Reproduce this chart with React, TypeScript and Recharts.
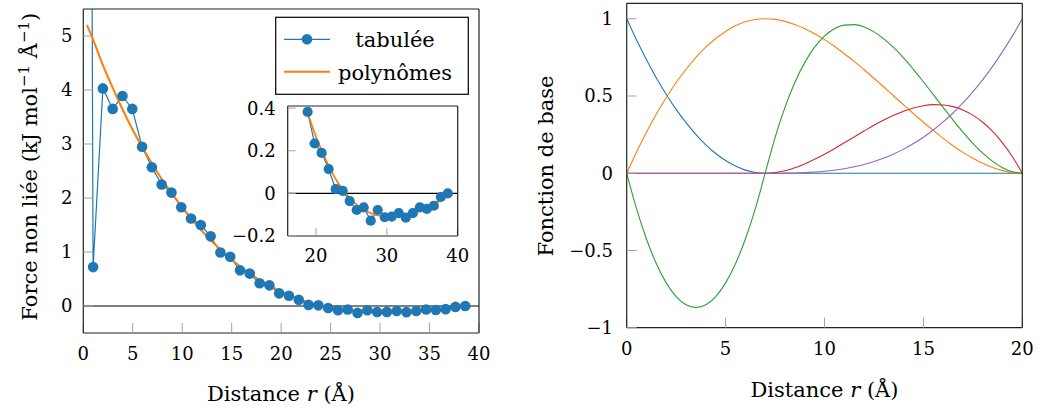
import React from 'react';
import { LineChart, Line, XAxis, YAxis, ReferenceLine } from 'recharts';

const FONT = 'DejaVu Serif';
const BLUE = '#1f77b4';
const ORANGE = '#ff7f0e';
const GREEN = '#2ca02c';
const RED = '#d62728';
const PURPLE = '#9467bd';
const TICK_GRAY = '#a0a0a0';
const FRAME = '#222222';

// ---------- Left panel: tabulated non-bonded force ----------
const tabR = [0, 0.99, 1.98, 2.97, 3.96, 4.95, 5.94, 6.93, 7.92, 8.91, 9.9, 10.89, 11.88, 12.87, 13.86, 14.85, 15.84, 16.83, 17.82, 18.81, 19.8, 20.79, 21.78, 22.77, 23.76, 24.75, 25.74, 26.73, 27.72, 28.71, 29.7, 30.69, 31.68, 32.67, 33.66, 34.65, 35.64, 36.63, 37.62, 38.61];
const tabF = [50, 0.72, 4.03, 3.65, 3.89, 3.65, 2.95, 2.57, 2.25, 2.1, 1.83, 1.62, 1.5, 1.29, 0.99, 0.91, 0.66, 0.6, 0.42, 0.382, 0.234, 0.19, 0.114, 0.02, 0.012, -0.036, -0.078, -0.066, -0.128, -0.078, -0.112, -0.109, -0.093, -0.114, -0.093, -0.066, -0.073, -0.058, -0.017, 0.0];

const polyR = [0.37, 1, 2, 3, 4, 5, 6, 7, 8, 9, 10, 11, 12, 13, 14, 15, 16, 17, 18, 19, 20, 21, 22, 23, 24, 25, 26, 27, 28, 29, 30, 31, 32, 33, 34, 35, 36, 37, 38];
const polyF = [5.2, 4.93, 4.45, 4.03, 3.63, 3.26, 2.93, 2.62, 2.33, 2.07, 1.83, 1.6, 1.39, 1.2, 1.02, 0.86, 0.71, 0.58, 0.46, 0.36, 0.265, 0.185, 0.115, 0.055, 0.01, -0.03, -0.06, -0.082, -0.096, -0.104, -0.108, -0.108, -0.105, -0.099, -0.09, -0.078, -0.063, -0.045, -0.024];

const mainMajorX = [0, 5, 10, 15, 20, 25, 30, 35, 40];
const mainMinorX = [1, 2, 3, 4, 6, 7, 8, 9, 11, 12, 13, 14, 16, 17, 18, 19, 21, 22, 23, 24, 26, 27, 28, 29, 31, 32, 33, 34, 36, 37, 38, 39];
const mainMajorY = [0, 1, 2, 3, 4, 5];
const mainMinorY = [-0.4, -0.2, 0.2, 0.4, 0.6, 0.8, 1.2, 1.4, 1.6, 1.8, 2.2, 2.4, 2.6, 2.8, 3.2, 3.4, 3.6, 3.8, 4.2, 4.4, 4.6, 4.8, 5.2, 5.4];

const insetMajorX = [20, 30, 40];
const insetMajorY = [-0.2, 0, 0.2, 0.4];

// ---------- Right panel: basis functions ----------
const basisX = [0, 0.5, 1, 1.5, 2, 2.5, 3, 3.5, 4, 4.5, 5, 5.5, 6, 6.5, 7, 7.5, 8, 8.5, 9, 9.5, 10, 10.5, 11, 11.5, 12, 12.5, 13, 13.5, 14, 14.5, 15, 15.5, 16, 16.5, 17, 17.5, 18, 18.5, 19, 19.5, 20];
const basis0 = [1, 0.862, 0.735, 0.617, 0.51, 0.413, 0.327, 0.25, 0.184, 0.128, 0.082, 0.046, 0.02, 0.005, 0, 0, 0, 0, 0, 0, 0, 0, 0, 0, 0, 0, 0, 0, 0, 0, 0, 0, 0, 0, 0, 0, 0, 0, 0, 0, 0];
const basis1 = [0, 0.138, 0.265, 0.383, 0.49, 0.587, 0.673, 0.75, 0.816, 0.872, 0.918, 0.954, 0.98, 0.995, 1, 0.996, 0.983, 0.963, 0.936, 0.903, 0.865, 0.822, 0.774, 0.724, 0.67, 0.615, 0.558, 0.5, 0.442, 0.386, 0.33, 0.277, 0.226, 0.178, 0.135, 0.097, 0.064, 0.037, 0.017, 0.004, 0];
const basis2 = [0, -0.231, -0.426, -0.586, -0.71, -0.799, -0.852, -0.87, -0.852, -0.799, -0.71, -0.586, -0.426, -0.231, 0, 0.231, 0.426, 0.587, 0.716, 0.816, 0.888, 0.935, 0.959, 0.962, 0.947, 0.915, 0.87, 0.813, 0.746, 0.671, 0.592, 0.509, 0.426, 0.344, 0.266, 0.194, 0.13, 0.077, 0.036, 0.009, 0];
const basis3 = [0, 0, 0, 0, 0, 0, 0, 0, 0, 0, 0, 0, 0, 0, 0, 0.004, 0.016, 0.035, 0.06, 0.09, 0.123, 0.159, 0.197, 0.235, 0.273, 0.31, 0.344, 0.375, 0.401, 0.422, 0.437, 0.444, 0.442, 0.431, 0.41, 0.376, 0.33, 0.271, 0.197, 0.107, 0];
const basis4 = [0, 0, 0, 0, 0, 0, 0, 0, 0, 0, 0, 0, 0, 0, 0, 0.0001, 0.0005, 0.0015, 0.0036, 0.0071, 0.0123, 0.0195, 0.0291, 0.0415, 0.0569, 0.0757, 0.0983, 0.125, 0.156, 0.192, 0.233, 0.28, 0.332, 0.39, 0.455, 0.527, 0.606, 0.692, 0.787, 0.889, 1];

const basisMajorX = [0, 5, 10, 15, 20];
const basisMinorX = [1, 2, 3, 4, 6, 7, 8, 9, 11, 12, 13, 14, 16, 17, 18, 19];
const basisMajorY = [-1, -0.5, 0, 0.5, 1];
const basisMinorY = [-0.9, -0.8, -0.7, -0.6, -0.4, -0.3, -0.2, -0.1, 0.1, 0.2, 0.3, 0.4, 0.6, 0.7, 0.8, 0.9, 1.1];

const legendNames = ['tabulée', 'polynômes'];

// ---------- tables built from the arrays ----------
const tabData = tabR.map((r, i) => ({ r, f: tabF[i] }));
const polyData = polyR.map((r, i) => ({ r, f: polyF[i] }));
const insetTab = tabData.filter((d) => d.r >= 18.5);
const insetPoly = polyData.filter((d) => d.r >= 19);
const basisData = basisX.map((x, i) => ({ r: x, b0: basis0[i], b1: basis1[i], b2: basis2[i], b3: basis3[i], b4: basis4[i] }));

const fmt = (v: number) => (v < 0 ? '\u2212' + String(Math.abs(v)) : String(v));

type FrameCfg = {
  xDomain: [number, number];
  yDomain: [number, number];
  xMajor: number[];
  xMinor: number[];
  yMajor: number[];
  yMinor: number[];
  majorLen: number;
  minorLen: number;
  xGap: number;
  yGap: number;
  fontSize: number;
};

function frameAxes(c: FrameCfg) {
  const tickText = { fontSize: c.fontSize, fontFamily: FONT, fill: '#000' };
  const frameLine = { stroke: FRAME, strokeWidth: 1.2 };
  const tl = { stroke: TICK_GRAY, strokeWidth: 1 };
  const out: React.ReactElement[] = [
    <XAxis key="xb" dataKey="r" type="number" allowDataOverflow interval={0} domain={c.xDomain} ticks={c.xMajor}
      orientation="bottom" height={0.001} tickSize={-c.majorLen} tickMargin={c.xGap + c.majorLen}
      axisLine={frameLine} tickLine={tl} tick={tickText} tickFormatter={fmt} />,
    <XAxis key="xt" xAxisId="xt" type="number" allowDataOverflow interval={0} domain={c.xDomain} ticks={c.xMajor}
      orientation="top" height={0.001} tickSize={-c.majorLen} axisLine={frameLine} tickLine={tl} tick={false} />,
    <YAxis key="yl" type="number" allowDataOverflow interval={0} domain={c.yDomain} ticks={c.yMajor}
      orientation="left" width={0.001} tickSize={-c.majorLen} tickMargin={c.yGap + c.majorLen}
      axisLine={frameLine} tickLine={tl} tick={tickText} tickFormatter={fmt} />,
    <YAxis key="yr" yAxisId="yr" type="number" allowDataOverflow interval={0} domain={c.yDomain} ticks={c.yMajor}
      orientation="right" width={0.001} tickSize={-c.majorLen} axisLine={frameLine} tickLine={tl} tick={false} />,
  ];
  if (c.xMinor.length) {
    out.push(
      <XAxis key="xbm" xAxisId="xbm" type="number" allowDataOverflow interval={0} domain={c.xDomain} ticks={c.xMinor}
        orientation="bottom" height={0.001} tickSize={-c.minorLen} axisLine={false} tickLine={tl} tick={false} />,
      <XAxis key="xtm" xAxisId="xtm" type="number" allowDataOverflow interval={0} domain={c.xDomain} ticks={c.xMinor}
        orientation="top" height={0.001} tickSize={-c.minorLen} axisLine={false} tickLine={tl} tick={false} />,
    );
  }
  if (c.yMinor.length) {
    out.push(
      <YAxis key="ylm" yAxisId="ylm" type="number" allowDataOverflow interval={0} domain={c.yDomain} ticks={c.yMinor}
        orientation="left" width={0.001} tickSize={-c.minorLen} axisLine={false} tickLine={tl} tick={false} />,
      <YAxis key="yrm" yAxisId="yrm" type="number" allowDataOverflow interval={0} domain={c.yDomain} ticks={c.yMinor}
        orientation="right" width={0.001} tickSize={-c.minorLen} axisLine={false} tickLine={tl} tick={false} />,
    );
  }
  return out;
}

const TICK = 18;
const TITLE = 21;
const LEG = 21;
const SUP = 15;

export default function App() {
  return (
    <div style={{ position: 'absolute', left: 0, top: 0, width: 1043, height: 410, background: '#fff' }}>
      {/* main left chart */}
      <div style={{ position: 'absolute', left: 0, top: 0 }}>
        <LineChart width={520} height={410} margin={{ top: 9, right: 41, bottom: 77, left: 83.3 }}>
          {frameAxes({
            xDomain: [0, 40], yDomain: [-0.5, 5.5], xMajor: mainMajorX, xMinor: mainMinorX,
            yMajor: mainMajorY, yMinor: mainMinorY, majorLen: 10, minorLen: 6.5, xGap: 14.2, yGap: 10.8, fontSize: TICK,
          })}
          <ReferenceLine y={0} stroke="#000" strokeWidth={1.1} />
          <Line data={tabData} dataKey="f" type="linear" stroke={BLUE} strokeWidth={1.2}
            dot={{ r: 5.3, fill: BLUE, stroke: BLUE, strokeWidth: 0 }} activeDot={false} isAnimationActive={false} />
          <Line data={polyData} dataKey="f" type="monotone" stroke={ORANGE} strokeWidth={2.1}
            dot={false} activeDot={false} isAnimationActive={false} />
        </LineChart>
      </div>

      {/* inset */}
      <div style={{ position: 'absolute', left: 287.7, top: 106, width: 170, height: 130, background: '#fff' }} />
      <div style={{ position: 'absolute', left: 220, top: 90 }}>
        <LineChart width={260} height={190} margin={{ top: 16, right: 22.3, bottom: 44, left: 67.7 }}>
          {frameAxes({
            xDomain: [16, 40], yDomain: [-0.2, 0.41], xMajor: insetMajorX, xMinor: [],
            yMajor: insetMajorY, yMinor: [], majorLen: 8, minorLen: 5, xGap: 12.9, yGap: 12, fontSize: TICK,
          })}
          <ReferenceLine y={0} stroke="#000" strokeWidth={1.1} />
          <Line data={insetTab} dataKey="f" type="linear" stroke={BLUE} strokeWidth={1.2}
            dot={{ r: 5.1, fill: BLUE, stroke: BLUE, strokeWidth: 0 }} activeDot={false} isAnimationActive={false} />
          <Line data={insetPoly} dataKey="f" type="monotone" stroke={ORANGE} strokeWidth={1.8}
            dot={false} activeDot={false} isAnimationActive={false} />
        </LineChart>
      </div>

      {/* right chart */}
      <div style={{ position: 'absolute', left: 520, top: 0 }}>
        <LineChart width={523} height={410} data={basisData} margin={{ top: 3.3, right: 20.7, bottom: 82.3, left: 106.7 }}>
          {frameAxes({
            xDomain: [0, 20], yDomain: [-1, 1.1], xMajor: basisMajorX, xMinor: basisMinorX,
            yMajor: basisMajorY, yMinor: basisMinorY, majorLen: 10, minorLen: 6.5, xGap: 14.5, yGap: 13.7, fontSize: TICK,
          })}
          <Line dataKey="b0" type="monotone" stroke={BLUE} strokeWidth={1.1} dot={false} activeDot={false} isAnimationActive={false} />
          <Line dataKey="b1" type="monotone" stroke={ORANGE} strokeWidth={1.1} dot={false} activeDot={false} isAnimationActive={false} />
          <Line dataKey="b2" type="monotone" stroke={GREEN} strokeWidth={1.1} dot={false} activeDot={false} isAnimationActive={false} />
          <Line dataKey="b3" type="monotone" stroke={RED} strokeWidth={1.1} dot={false} activeDot={false} isAnimationActive={false} />
          <Line dataKey="b4" type="monotone" stroke={PURPLE} strokeWidth={1.1} dot={false} activeDot={false} isAnimationActive={false} />
        </LineChart>
      </div>

      {/* titles and legend */}
      <svg width={1043} height={410} style={{ position: 'absolute', left: 0, top: 0, pointerEvents: 'none' }}>
        <text x={281} y={401} textAnchor="middle" fontSize={TITLE} fill="#000" fontFamily={FONT}>
          Distance <tspan fontStyle="italic">r</tspan> (Å)
        </text>
        <text x={824.5} y={396.7} textAnchor="middle" fontSize={TITLE} fill="#000" fontFamily={FONT}>
          Distance <tspan fontStyle="italic">r</tspan> (Å)
        </text>
        <text transform="translate(37,166.7) rotate(-90)" textAnchor="middle" fontSize={TITLE} fill="#000" fontFamily={FONT}>
          Force non liée (kJ mol<tspan dy={-8} fontSize={SUP}>−1</tspan><tspan dy={8}> Å</tspan><tspan dy={-8} fontSize={SUP}>−1</tspan><tspan dy={8}>)</tspan>
        </text>
        <text transform="translate(553,166) rotate(-90)" textAnchor="middle" fontSize={TITLE} fill="#000" fontFamily={FONT}>
          Fonction de base
        </text>

        <rect x={275.7} y={17.3} width={192.6} height={77} fill="#fff" stroke="#000" strokeWidth={1.2} />
        <line x1={284} y1={39.3} x2={330} y2={39.3} stroke={BLUE} strokeWidth={1.2} />
        <circle cx={307} cy={39.3} r={5.3} fill={BLUE} />
        <text x={395} y={46.5} textAnchor="middle" fontSize={LEG} fill="#000" fontFamily={FONT}>{legendNames[0]}</text>
        <line x1={284} y1={71.7} x2={330} y2={71.7} stroke={ORANGE} strokeWidth={2.1} />
        <text x={395} y={79.5} textAnchor="middle" fontSize={LEG} fill="#000" fontFamily={FONT}>{legendNames[1]}</text>
      </svg>
    </div>
  );
}
